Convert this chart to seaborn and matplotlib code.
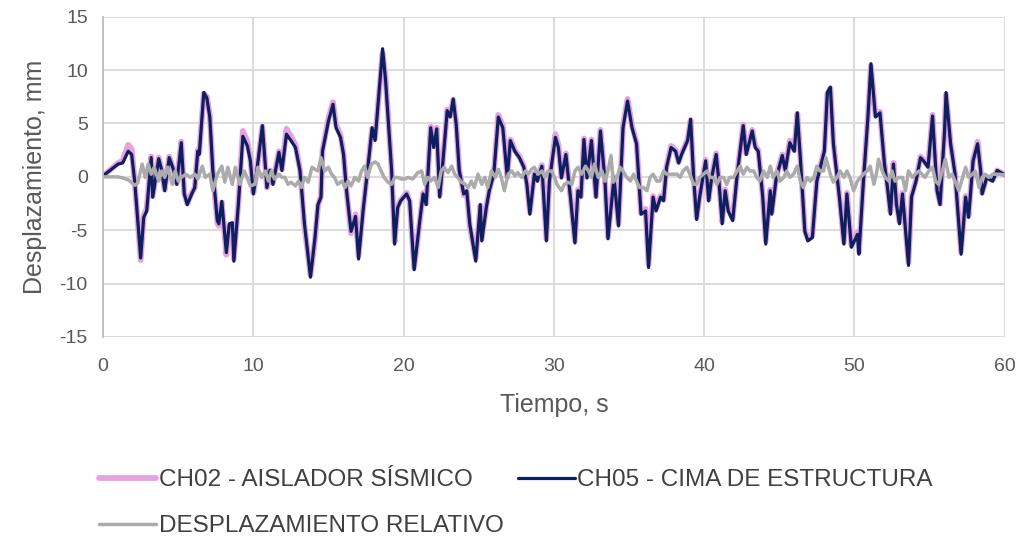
import matplotlib
matplotlib.use('Agg')
import matplotlib.pyplot as plt
import seaborn as sns
import pandas as pd

# CH05 - cima de estructura: (tiempo s, desplazamiento mm)
ch05_0 = [(0, 0.1), (1.0, 1.2), (1.3, 1.3), (1.67, 2.4), (1.9, 2.1), (2.1, -0.4), (2.5, -7.6), (2.7, -3.8),
          (2.9, -3.2), (3.2, 1.8), (3.3, -1.9), (3.7, 1.7), (3.9, 0.6), (4.1, -1.3), (4.4, 1.8), (4.7, 0.6),
          (4.9, -0.7), (5.2, 3.2), (5.4, -1.6), (5.6, -2.6), (5.9, -1.6), (6.1, -1.0), (6.3, 2.4), (6.4, 2.1),
          (6.7, 7.9), (6.9, 7.4), (7.1, 5.6), (7.3, 0.6), (7.6, -4.1), (7.7, -4.4), (7.9, -2.3), (8.2, -7.1),
          (8.4, -4.4), (8.6, -4.3), (8.7, -7.9), (9.0, -2.6), (9.3, 3.8), (9.6, 2.9), (9.8, 1.5), (10.0, -1.6)]
ch05_1 = [(10.2, 0.25), (10.6, 4.8), (10.9, -1.0), (11.1, 0.6), (11.3, -0.7), (11.7, 2.3), (11.9, 0.6),
          (12.2, 4.0), (12.5, 3.4), (12.8, 2.75), (13.1, 0.6), (13.2, -1.0), (13.4, -4.4), (13.8, -9.4),
          (14.1, -5.7), (14.3, -2.6), (14.5, -1.9), (14.6, 2.4), (15.0, 5.25), (15.3, 6.8), (15.5, 4.6),
          (15.8, 3.7), (16.0, 2.1), (16.2, -1.3), (16.5, -5.1), (16.8, -3.7), (17.0, -7.7), (17.3, -3.2),
          (17.6, 0.6), (17.9, 4.6), (18.1, 3.4), (18.6, 12.0), (18.8, 9.0), (19.2, 0.6), (19.4, -6.3),
          (19.6, -2.9), (19.8, -2.25)]
ch05_2 = [(20.2, -1.6), (20.4, -2.25), (20.7, -8.7), (21.1, -3.8), (21.3, -1.6), (21.5, -2.6), (21.8, 4.6),
          (22.0, 2.75), (22.2, 4.5), (22.4, -1.9), (22.6, 1.2), (22.9, 6.2), (23.1, 5.6), (23.3, 7.3),
          (23.5, 4.9), (23.7, 0.6), (24.0, -1.6), (24.2, -1.3), (24.4, -4.4), (24.8, -7.9), (25.1, -2.6),
          (25.2, -6.0), (25.5, -2.9), (25.7, -1.3), (26.0, 0.25), (26.3, 5.6), (26.6, 4.6), (26.9, -0.1),
          (27.1, 3.4), (27.4, 2.4), (27.7, 1.8), (28.0, 0.9), (28.2, -0.7), (28.4, -3.5), (28.7, 0.25),
          (28.9, -0.4), (29.2, 1.0), (29.5, -6.0), (29.7, -0.4)]
ch05_3 = [(30.1, 3.7), (30.3, 2.75), (30.5, -0.1), (30.8, 2.1), (31.1, -1.9), (31.4, -6.2), (31.6, -1.3),
          (31.8, -1.9), (32.0, 3.5), (32.2, -0.1), (32.5, 3.4), (32.8, -1.9), (33.1, 4.3), (33.4, -0.4),
          (33.6, -5.8), (34.0, -0.1), (34.3, -4.6), (34.6, 4.6), (34.9, 7.1), (35.2, 4.6), (35.5, 3.1),
          (35.8, -3.5), (36.1, -3.2), (36.3, -8.5), (36.6, -1.9), (36.8, -3.2), (37.1, -1.9), (37.3, -2.25),
          (37.5, 0.9), (37.8, 2.75), (38.1, 2.4), (38.3, 1.3), (38.5, 2.1), (38.9, 3.4), (39.1, 5.4),
          (39.3, -0.1), (39.5, -4.0), (39.7, -1.9)]
ch05_4 = [(40.1, 1.5), (40.3, -2.25), (40.5, -0.1), (40.8, 2.1), (41.0, -0.7), (41.2, -4.4), (41.4, -1.3),
          (41.6, -3.2), (41.9, -4.1), (42.2, 0.25), (42.6, 4.8), (42.8, 2.1), (43.2, 4.3), (43.4, 2.75),
          (43.6, 2.4), (43.9, -1.9), (44.1, -6.3), (44.4, -1.3), (44.5, -3.5), (44.8, -0.1), (45.2, 2.0),
          (45.4, 0.6), (45.7, 3.2), (46.0, 2.4), (46.2, 6.0), (46.4, 1.8), (46.7, -5.1), (46.9, -6.0),
          (47.2, -5.7), (47.5, -0.4), (48.0, 2.4), (48.2, 7.9), (48.4, 8.4), (48.6, 3.1), (49.0, -1.9),
          (49.3, -6.3), (49.5, -1.6), (49.8, -6.6)]
ch05_5 = [(50.2, -5.4), (50.3, -7.25), (50.6, -0.4), (50.9, 5.6), (51.1, 10.6), (51.4, 5.6), (51.7, 6.0),
          (52.0, 1.2), (52.2, -1.0), (52.4, -3.5), (52.6, 1.2), (52.8, -2.6), (53.0, -4.4), (53.2, -1.6),
          (53.6, -8.3), (53.8, -1.9), (54.1, -0.4), (54.4, 1.8), (54.6, 1.5), (54.9, 0.9), (55.2, 5.7),
          (55.5, -1.3), (55.7, -2.6), (56.0, 4.3), (56.1, 7.9), (56.4, 3.1), (56.7, 0.25), (57.1, -7.25),
          (57.4, -1.9), (57.6, -3.8), (57.9, 1.5), (58.2, 3.1), (58.4, 0.6), (58.5, -1.6), (58.8, -0.1),
          (59.2, -0.4), (59.5, 0.6), (60.0, 0.2)]

# CH02 - aislador sísmico (casi igual, algo mayor en los picos)
ch02_0 = [(0, 0.1), (1.0, 1.3), (1.3, 1.5), (1.67, 3.0), (1.9, 2.6), (2.1, -0.4), (2.5, -7.8), (2.7, -3.6),
          (2.9, -3.0), (3.2, 1.9), (3.3, -1.8), (3.7, 1.8), (3.9, 0.6), (4.1, -1.2), (4.4, 1.9), (4.7, 0.6),
          (4.9, -0.6), (5.2, 3.3), (5.4, -1.5), (5.6, -2.5), (5.9, -1.5), (6.1, -1.0), (6.3, 2.5), (6.4, 2.3),
          (6.7, 7.8), (6.9, 7.5), (7.1, 5.8), (7.3, 0.6), (7.6, -4.3), (7.7, -4.6), (7.9, -2.4), (8.2, -7.3),
          (8.4, -4.6), (8.6, -4.4), (8.7, -7.7), (9.0, -2.4), (9.3, 4.3), (9.6, 3.3), (9.8, 1.7), (10.0, -1.5)]
ch02_1 = [(10.2, 0.3), (10.6, 4.7), (10.9, -1.0), (11.1, 0.6), (11.3, -0.6), (11.7, 2.4), (11.9, 0.7),
          (12.2, 4.5), (12.5, 3.8), (12.8, 3.0), (13.1, 0.7), (13.2, -1.0), (13.4, -4.6), (13.8, -9.2),
          (14.1, -5.9), (14.3, -2.7), (14.5, -1.8), (14.6, 2.5), (15.0, 5.5), (15.3, 7.0), (15.5, 4.9),
          (15.8, 3.9), (16.0, 2.2), (16.2, -1.3), (16.5, -5.3), (16.8, -3.5), (17.0, -7.4), (17.3, -3.1),
          (17.6, 0.7), (17.9, 4.5), (18.1, 3.6), (18.6, 11.6), (18.8, 9.2), (19.2, 0.7), (19.4, -6.1),
          (19.6, -2.8), (19.8, -2.2)]
ch02_2 = [(20.2, -1.5), (20.4, -2.3), (20.7, -8.5), (21.1, -3.9), (21.3, -1.5), (21.5, -2.5), (21.8, 4.7),
          (22.0, 2.9), (22.2, 4.6), (22.4, -1.7), (22.6, 1.3), (22.9, 6.3), (23.1, 5.8), (23.3, 7.2),
          (23.5, 5.0), (23.7, 0.7), (24.0, -1.7), (24.2, -1.4), (24.4, -4.6), (24.8, -7.6), (25.1, -2.7),
          (25.2, -5.8), (25.5, -2.8), (25.7, -1.2), (26.0, 0.3), (26.3, 5.8), (26.6, 4.8), (26.9, 0.0),
          (27.1, 3.5), (27.4, 2.5), (27.7, 1.9), (28.0, 1.0), (28.2, -0.6), (28.4, -3.3), (28.7, 0.3),
          (28.9, -0.3), (29.2, 1.1), (29.5, -5.8), (29.7, -0.3)]
ch02_3 = [(30.1, 4.0), (30.3, 3.0), (30.5, 0.0), (30.8, 2.2), (31.1, -1.8), (31.4, -6.0), (31.6, -1.2),
          (31.8, -1.8), (32.0, 3.6), (32.2, 0.0), (32.5, 3.5), (32.8, -1.8), (33.1, 4.4), (33.4, -0.3),
          (33.6, -5.6), (34.0, 0.0), (34.3, -4.4), (34.6, 4.8), (34.9, 7.3), (35.2, 4.8), (35.5, 3.2),
          (35.8, -3.4), (36.1, -3.0), (36.3, -8.2), (36.6, -1.8), (36.8, -3.0), (37.1, -1.8), (37.3, -2.1),
          (37.5, 1.0), (37.8, 2.9), (38.1, 2.5), (38.3, 1.4), (38.5, 2.2), (38.9, 3.5), (39.1, 5.3),
          (39.3, 0.0), (39.5, -3.8), (39.7, -1.8)]
ch02_4 = [(40.1, 1.6), (40.3, -2.1), (40.5, 0.0), (40.8, 2.2), (41.0, -0.6), (41.2, -4.2), (41.4, -1.2),
          (41.6, -3.0), (41.9, -3.9), (42.2, 0.3), (42.6, 4.9), (42.8, 2.2), (43.2, 4.4), (43.4, 2.9),
          (43.6, 2.5), (43.9, -1.8), (44.1, -6.0), (44.4, -1.2), (44.5, -3.3), (44.8, 0.0), (45.2, 2.1),
          (45.4, 0.7), (45.7, 3.4), (46.0, 2.5), (46.2, 5.9), (46.4, 1.9), (46.7, -5.0), (46.9, -5.8),
          (47.2, -5.5), (47.5, -0.3), (48.0, 2.5), (48.2, 7.8), (48.4, 8.3), (48.6, 3.3), (49.0, -1.8),
          (49.3, -6.1), (49.5, -1.5), (49.8, -6.4)]
ch02_5 = [(50.2, -5.2), (50.3, -7.0), (50.6, -0.3), (50.9, 5.7), (51.1, 10.4), (51.4, 5.8), (51.7, 6.1),
          (52.0, 1.3), (52.2, -0.9), (52.4, -3.3), (52.6, 1.3), (52.8, -2.5), (53.0, -4.2), (53.2, -1.5),
          (53.6, -8.0), (53.8, -1.8), (54.1, -0.3), (54.4, 1.9), (54.6, 1.6), (54.9, 1.0), (55.2, 5.8),
          (55.5, -1.2), (55.7, -2.5), (56.0, 4.4), (56.1, 7.7), (56.4, 3.2), (56.7, 0.3), (57.1, -7.0),
          (57.4, -1.8), (57.6, -3.6), (57.9, 1.6), (58.2, 3.3), (58.4, 0.7), (58.5, -1.5), (58.8, 0.0),
          (59.2, -0.3), (59.5, 0.6), (60.0, 0.2)]

# Desplazamiento relativo
rel_t = [0, 1.0, 1.3, 1.7, 2.1, 2.3, 2.6, 2.8, 3.0, 3.2, 3.4, 3.7, 3.9, 4.1, 4.3, 4.6, 4.8, 5.0, 5.2, 5.5,
         5.8, 6.1, 6.3, 6.6, 6.8, 7.1, 7.3, 7.6, 7.9, 8.1, 8.3, 8.6, 8.8, 9.1, 9.4, 9.8] + \
        [10.1, 10.3, 10.55, 10.8, 11.0, 11.2, 11.4, 11.7, 11.9, 12.1, 12.3, 12.5, 12.8, 13.0, 13.2, 13.4,
         13.65, 13.9, 14.1, 14.3, 14.5, 14.75, 15.0, 15.2, 15.4, 15.6, 15.9, 16.1, 16.3, 16.5, 16.75, 17.0,
         17.2, 17.4, 17.6, 17.85, 18.1, 18.3, 18.5, 18.7, 18.95, 19.2, 19.4, 19.6, 19.85] + \
        [20.1, 20.3, 20.6, 20.95, 21.2, 21.4, 21.6, 21.8, 22.05, 22.3, 22.5, 22.7, 22.95, 23.2, 23.4, 23.6,
         23.85, 24.1, 24.3, 24.5, 24.7, 24.95, 25.2, 25.4, 25.6, 25.85, 26.1, 26.3, 26.5, 26.7, 26.95, 27.2,
         27.4, 27.6, 27.85, 28.1, 28.3, 28.5, 28.7, 28.95, 29.2, 29.4, 29.6, 29.85] + \
        [30.05, 30.2, 30.5, 30.7, 30.95, 31.2, 31.4, 31.6, 31.85, 32.1, 32.3, 32.5, 32.7, 32.95, 33.2, 33.4,
         33.6, 33.8, 33.95, 34.2, 34.4, 34.6, 34.85, 35.1, 35.3, 35.5, 35.7, 35.95, 36.2, 36.4, 36.6, 36.85,
         37.05, 37.3, 37.5, 37.7, 37.95, 38.2, 38.4, 38.6, 38.85, 39.05, 39.3, 39.5, 39.7, 39.95] + \
        [40.2, 40.4, 40.6, 40.85, 41.05, 41.3, 41.5, 41.7, 41.95, 42.2, 42.4, 42.6, 42.85, 43.05, 43.3, 43.5,
         43.7, 43.95, 44.2, 44.4, 44.6, 44.85, 45.05, 45.3, 45.5, 45.7, 45.95, 46.2, 46.4, 46.6, 46.85, 47.05,
         47.3, 47.5, 47.7, 47.95, 48.1, 48.4, 48.6, 48.85, 49.05, 49.3, 49.5, 49.7, 49.95] + \
        [50.2, 50.4, 50.6, 50.85, 51.05, 51.3, 51.5, 51.6, 51.85, 52.05, 52.3, 52.5, 52.7, 52.95, 53.2, 53.4,
         53.6, 53.85, 54.05, 54.3, 54.5, 54.7, 54.95, 55.2, 55.4, 55.6, 55.85, 56.05, 56.3, 56.5, 56.7, 56.95,
         57.2, 57.4, 57.6, 57.85, 58.05, 58.3, 58.5, 58.7, 58.95, 59.2, 59.5, 60.0]
rel_v = [0, 0, -0.1, -0.3, -0.8, -0.6, 1.2, -0.05, 1.2, 0.25, 0.9, -0.4, 0.55, -0.05, 0.9, -0.7, 0.55, -0.4,
         -0.05, 0.25, -0.05, 0.25, -0.2, 1.0, -0.05, 0.25, -1.3, 0.25, 1.0, -0.5, 0.9, -0.7, 0.9, -0.7, 0.55,
         -0.85] + \
        [-0.7, 0.9, -0.05, 0.55, -0.4, 0.55, -0.2, 0.25, -0.05, -0.05, -0.7, -0.5, -0.85, -0.4, -1.0, -0.05,
         -0.5, 0.9, 0.7, 0.55, 1.8, 0.55, 0.9, 0.25, -0.05, -0.7, -0.4, -1.0, -0.4, -0.85, -0.05, -0.4, 0.55,
         1.0, -0.05, 1.2, 1.4, 1.2, 0.55, -0.05, -0.5, -0.7, -0.05, -0.05, -0.2] + \
        [-0.2, -0.05, -0.2, 0.4, 0.55, -0.7, -0.05, -0.4, -0.05, -1.0, 0.55, 0.9, 0.4, 1.0, 0.25, -0.05,
         -0.5, -0.7, -1.0, -0.4, -1.0, 0.25, -0.7, -0.05, -1.0, 0.55, -0.05, 0.7, -0.05, -1.3, 0.25, 0.55,
         0.1, 0.4, -0.05, 0.55, 0.25, 0.7, 0.9, 0.25, 0.55, -0.05, 0.55, 0.55] + \
        [-0.05, -0.7, -1.3, -0.7, -0.5, -0.7, 0.55, 0.9, 0.25, 1.0, 0.55, -0.05, 1.2, -0.05, 0.55, -0.4,
         0.55, 2.0, -0.5, -0.05, 0.9, 0.55, -0.05, -0.4, 0.25, -0.4, -1.0, -1.0, -1.3, -0.05, 0.25, -0.4,
         -0.4, 0.55, 0.25, 0.25, 0.25, 0.25, -0.05, 0.55, 0.9, 0.25, -0.7, -0.7, -0.05, 0.25] + \
        [0.55, -0.05, -0.05, -0.7, -0.05, -0.05, -0.7, -0.05, -0.05, 0.55, 1.0, 0.25, 0.9, 0.55, 0.55, -0.05,
         -0.4, 0.55, -0.05, 1.0, -0.05, 0.55, -0.4, -0.05, 0.55, -0.05, 0.25, 1.0, -0.4, -1.0, -0.05, -0.4,
         -0.05, 1.0, 0.55, 0.55, 1.8, 0.25, -0.5, -0.05, 0.55, -0.05, 0.55, -0.05, -1.3] + \
        [-0.4, -0.05, 0.25, 0.55, 1.0, -0.7, 0.55, 1.65, 0.55, -0.05, -0.4, 0.55, -0.4, -0.05, -0.05, -1.3,
         0.55, -0.05, 0.25, 0.55, 0.25, -0.05, 0.55, 0.9, -0.4, -0.7, 0.55, 1.65, -0.05, 0.25, -0.4, -1.3,
         -0.05, 0.9, -0.05, 0.25, 0.55, -1.0, -0.05, 0.25, -0.05, 0.25, 0.25, 0.2]

etiquetas = ['CH02 - AISLADOR SÍSMICO', 'CH05 - CIMA DE ESTRUCTURA', 'DESPLAZAMIENTO RELATIVO']
colores = ['#E8A2E0', '#0C1F5E', '#ABABAB']

ch02 = pd.DataFrame(ch02_0 + ch02_1 + ch02_2 + ch02_3 + ch02_4 + ch02_5, columns=['t', 'd'])
ch05 = pd.DataFrame(ch05_0 + ch05_1 + ch05_2 + ch05_3 + ch05_4 + ch05_5, columns=['t', 'd'])
rel = pd.DataFrame({'t': rel_t, 'd': rel_v})

sns.set_style('white')
plt.rcParams['font.family'] = ['Liberation Sans', 'DejaVu Sans']
plt.rcParams['axes.unicode_minus'] = False

fig = plt.figure(figsize=(10.21, 5.4), dpi=100)
ax = fig.add_axes([0.101, 0.376, 0.883, 0.593])

sns.lineplot(data=ch02, x='t', y='d', ax=ax, color=colores[0], lw=4.2, estimator=None, sort=False)
sns.lineplot(data=ch05, x='t', y='d', ax=ax, color=colores[1], lw=2.3, estimator=None, sort=False)
sns.lineplot(data=rel, x='t', y='d', ax=ax, color=colores[2], lw=2.5, estimator=None, sort=False)

ax.set_xlim(0, 60)
ax.set_ylim(-15, 15)
ax.set_xticks(range(0, 61, 10))
ax.set_yticks(range(-15, 16, 5))
ax.grid(True, color='#D9D9D9', lw=1.3)
ax.set_axisbelow(True)
for s in ['top', 'right', 'bottom']:
    ax.spines[s].set_visible(False)
ax.spines['left'].set_color('#BFBFBF')
ax.spines['left'].set_linewidth(1.3)
ax.tick_params(length=0, labelsize=14, labelcolor='#595959')
ax.tick_params(axis='x', pad=15)
ax.tick_params(axis='y', pad=11)
ax.set_xlabel('Tiempo, s', fontsize=18, color='#595959', labelpad=13)
ax.set_ylabel('Desplazamiento, mm', fontsize=18, color='#595959', labelpad=9)

# Leyenda abajo, dos columnas (orden para que quede como en Excel)
lineas = ax.get_lines()
orden = [0, 2, 1]
fig.legend([lineas[i] for i in orden], [etiquetas[i] for i in orden],
           loc='center left', bbox_to_anchor=(0.097, 0.068), ncol=2, frameon=False,
           fontsize=17.5, handlelength=2.35, handletextpad=0.1, columnspacing=0.6,
           labelspacing=1.0, borderpad=0, borderaxespad=0, labelcolor='#404040')

fig.savefig('out.png', dpi=100)
